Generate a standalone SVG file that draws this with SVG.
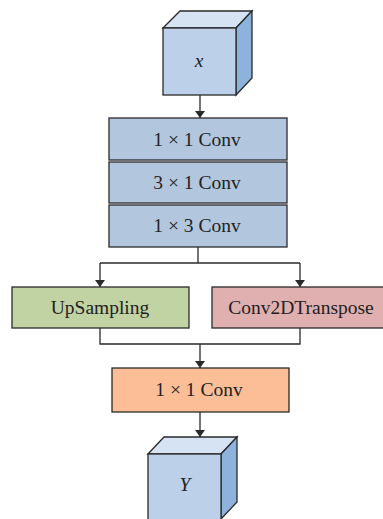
<svg xmlns="http://www.w3.org/2000/svg" width="383" height="519" viewBox="0 0 383 519">
  <style>
    .box { stroke: #2a2a2a; stroke-width: 1.3; }
    .conv { fill: #b2c6de; }
    .up { fill: #c2d3a3; }
    .tr { fill: #e0b0b0; }
    .out { fill: #fbbe96; }
    .front { fill: #bcd0ea; stroke: #2a2a2a; stroke-width: 1.3; }
    .top { fill: #d6e3f3; stroke: #2a2a2a; stroke-width: 1.3; }
    .side { fill: #8db2dc; stroke: #2a2a2a; stroke-width: 1.3; }
    .lbl { font-family: "Liberation Serif", "DejaVu Serif", serif; font-size: 19.5px; fill: #222; text-anchor: middle; }
    .var { font-style: italic; }
    .wire { fill: none; stroke: #2a2a2a; stroke-width: 1.3; }
  </style>
  <defs>
    <marker id="arrow" viewBox="0 0 10 10" refX="10" refY="5" markerWidth="7" markerHeight="10" markerUnits="userSpaceOnUse" orient="auto" preserveAspectRatio="none">
      <path d="M0,0 L10,5 L0,10 Z" fill="#2a2a2a"/>
    </marker>
  </defs>

  <g id="connectors">
    <line class="wire" x1="200" y1="95" x2="200" y2="118" marker-end="url(#arrow)"/>
    <polyline class="wire" points="198,247 198,263"/>
    <polyline class="wire" points="100,263 300,263"/>
    <line class="wire" x1="100" y1="263" x2="100" y2="287" marker-end="url(#arrow)"/>
    <line class="wire" x1="300" y1="263" x2="300" y2="287" marker-end="url(#arrow)"/>
    <polyline class="wire" points="100,328 100,344 300,344 300,328"/>
    <line class="wire" x1="200" y1="344" x2="200" y2="368" marker-end="url(#arrow)"/>
    <line class="wire" x1="200" y1="412" x2="200" y2="437" marker-end="url(#arrow)"/>
  </g>

  <g id="input-x">
    <polygon class="top" points="163,28 180,11 252,11 236,28"/>
    <polygon class="side" points="236,28 252,11 252,78 236,95"/>
    <rect class="front" x="163" y="28" width="73" height="67"/>
    <text class="lbl var" x="199" y="67">x</text>
  </g>

  <g id="conv-1x1-a">
    <rect class="box conv" x="109" y="118" width="178" height="42"/>
    <text class="lbl" x="197" y="146">1 × 1 Conv</text>
  </g>
  <g id="conv-3x1">
    <rect class="box conv" x="109" y="162" width="178" height="41"/>
    <text class="lbl" x="197" y="189">3 × 1 Conv</text>
  </g>
  <g id="conv-1x3">
    <rect class="box conv" x="109" y="205" width="178" height="42"/>
    <text class="lbl" x="197" y="232">1 × 3 Conv</text>
  </g>

  <g id="upsampling">
    <rect class="box up" x="12" y="287" width="177" height="41"/>
    <text class="lbl" x="100" y="314">UpSampling</text>
  </g>
  <g id="conv2dtranspose">
    <rect class="box tr" x="212" y="287" width="172" height="41"/>
    <text class="lbl" x="301" y="314">Conv2DTranspose</text>
  </g>

  <g id="conv-1x1-b">
    <rect class="box out" x="112" y="368" width="177" height="44"/>
    <text class="lbl" x="199" y="396">1 × 1 Conv</text>
  </g>

  <g id="output-y">
    <polygon class="top" points="148,454 164,437 237,437 221,454"/>
    <polygon class="side" points="221,454 237,437 237,502 221,519"/>
    <rect class="front" x="148" y="454" width="73" height="70"/>
    <text class="lbl var" x="185" y="491">Y</text>
  </g>
</svg>
